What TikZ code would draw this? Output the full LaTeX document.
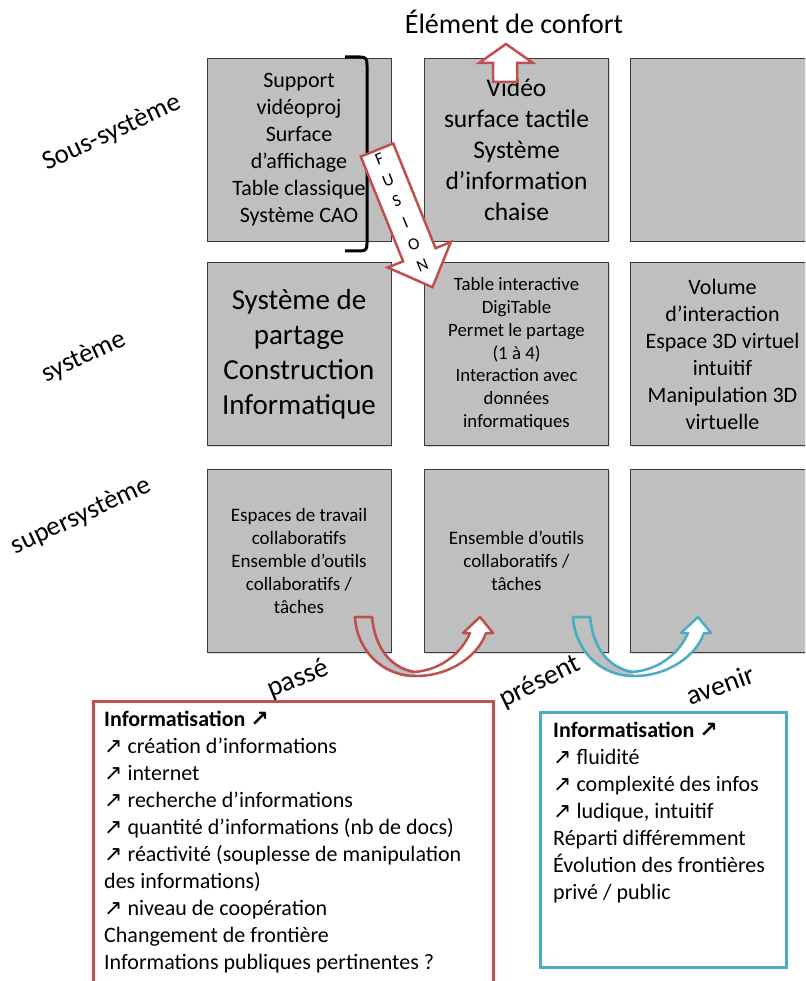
\documentclass[tikz,border=0pt]{standalone}
\usepackage{fontspec}
\setmainfont{Carlito}
\newfontfamily\arrfont[Scale=1.0]{DejaVu Sans}
\usetikzlibrary{shadows}
\definecolor{cellgray}{HTML}{BFBFBF}
\definecolor{cellline}{HTML}{3A3A3A}
\definecolor{arrred}{HTML}{C0504D}
\definecolor{arrblue}{HTML}{4BACC6}
\newcommand\incr{{\arrfont ↗}}
\newcommand\fsz[2]{\fontsize{#1}{#2}\selectfont}

\begin{document}
\begin{tikzpicture}[x=1pt, y=-1pt,
  cellbox/.style={draw=cellline, fill=cellgray, line width=0.8pt, minimum width=184pt,
    minimum height=183pt, inner sep=0pt, align=center,
    drop shadow={shadow xshift=1.2pt, shadow yshift=-1.2pt, opacity=0.3}},
  rowlabel/.style={rotate=25, font=\fsz{27}{32}},
  epoch/.style={font=\fsz{28}{34}},
  infotext/.style={anchor=north west, inner sep=0pt, align=left, font=\fsz{22}{27}}]
  \clip (0,0) rectangle (805,981);

  \node[font=\fsz{28}{34}] (confort) at (514,22) {Élément de confort};
  \node[rowlabel] (lsous) at (112,133) {Sous-système};
  \node[rowlabel] (lsys) at (84,357) {système};
  \node[rowlabel] (lsup) at (81,516) {supersystème};

  \node[cellbox, font=\fsz{22}{27}] (sub1) at (299,149.5)
    {Support\\vidéoproj\\Surface\\d’affichage\\Table classique\\Système CAO};
  \node[cellbox, font=\fsz{25.5}{31}] (sub2) at (516.5,149.5)
    {Vidéo\\surface tactile\\Système\\d’information\\chaise};
  \node[cellbox] (sub3) at (722.5,149.5) {};
  \node[cellbox, font=\fsz{29}{35}] (sys1) at (299,354)
    {Système de\\partage\\Construction\\Informatique};
  \node[cellbox, font=\fsz{18.8}{22.8}] (sys2) at (516.5,354)
    {Table interactive\\DigiTable\\Permet le partage\\(1 à 4)\\Interaction avec\\données\\informatiques};
  \node[cellbox, font=\fsz{22}{27}] (sys3) at (722.5,354)
    {Volume\\d’interaction\\Espace 3D virtuel\\intuitif\\Manipulation 3D\\virtuelle};
  \node[cellbox, font=\fsz{19}{23}] (sup1) at (299,561)
    {Espaces de travail\\collaboratifs\\Ensemble d’outils\\collaboratifs /\\tâches};
  \node[cellbox, font=\fsz{19}{23}] (sup2) at (516.5,561)
    {Ensemble d’outils\\collaboratifs /\\tâches};
  \node[cellbox] (sup3) at (722.5,561) {};

  \draw[line width=3pt] (345,57) -- (360,57) .. controls (366,57) and (367,59) .. (367,65)
    -- (367,243) .. controls (367,249) and (366,251) .. (360,251) -- (345,251);

  \begin{scope}[shift={(377,150)}, rotate=22]
    \filldraw[draw=arrred, fill=white, line width=2.5pt] (-17.5,0) -- (17.5,0) -- (17.5,113)
      -- (34,113) -- (0,148) -- (-34,113) -- (-17.5,113) -- cycle;
    \foreach \letter [count=\i from 0] in {F,U,S,I,O,N}
      \node[transform shape, font=\fsz{17}{20}] (fus\i) at (-1,9+23*\i) {\letter};
  \end{scope}

  \filldraw[draw=arrred, fill=white, line width=2.5pt] (493,82) -- (493,63) -- (479,63)
    -- (506,44) -- (533,63) -- (517,63) -- (517,82) -- cycle;

  \foreach \dx/\col in {0/arrred,218/arrblue}{
    \begin{scope}[shift={(\dx,0)}]
      \filldraw[draw=\col, fill=white, line width=2.5pt, line join=round]
        (355,617) .. controls (357,650) and (382,676) .. (416,676)
        .. controls (450,676) and (478,656) .. (486,633) -- (493,633) -- (480,617)
        -- (463,633) -- (470,633) .. controls (462,652) and (442,670) .. (414,672)
        .. controls (392,668) and (375,650) .. (372,617) -- cycle;
      \fill[black!25] (355,617) .. controls (357,650) and (382,676) .. (416,676) -- (414,672)
        .. controls (392,668) and (375,650) .. (372,617) -- cycle;
      \draw[\col, line width=2.5pt, line join=round] (416,676) .. controls (382,676) and (357,650) .. (355,617)
        -- (372,617) .. controls (375,650) and (392,668) .. (414,672);
    \end{scope}}

  \node[epoch, rotate=22] (passe) at (298,679) {passé};
  \node[epoch, rotate=26] (present) at (540,682) {présent};
  \node[epoch, rotate=20] (avenir) at (720,685) {avenir};

  \draw[arrred, line width=3pt] (93,701) rectangle (493,1000);
  \node[infotext] (pastinfo) at (104,711)
    {\textbf{Informatisation \incr}\\
     \incr\ création d’informations\\
     \incr\ internet\\
     \incr\ recherche d’informations\\
     \incr\ quantité d’informations (nb de docs)\\
     \incr\ réactivité (souplesse de manipulation\\
     des informations)\\
     \incr\ niveau de coopération\\
     Changement de frontière\\
     Informations publiques pertinentes ?};

  \draw[arrblue, line width=3pt] (540,712) rectangle (786,967);
  \node[infotext] (futinfo) at (553,722)
    {\textbf{Informatisation \incr}\\
     \incr\ fluidité\\
     \incr\ complexité des infos\\
     \incr\ ludique, intuitif\\
     Réparti différemment\\
     Évolution des frontières\\
     privé / public};
\end{tikzpicture}
\end{document}
